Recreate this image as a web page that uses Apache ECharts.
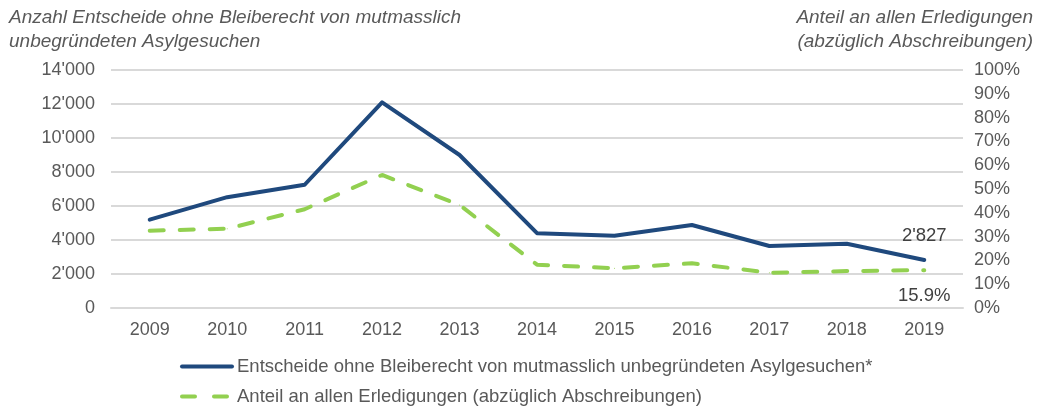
<!DOCTYPE html>
<html><head><meta charset="utf-8">
<script src="https://cdn.jsdelivr.net/npm/echarts@6/dist/echarts.min.js"></script>
<style>html,body{margin:0;padding:0;background:#fff}#c{width:1044px;height:407px}</style>
</head><body><div id="c"></div>
<script>
const years = ['2009','2010','2011','2012','2013','2014','2015','2016','2017','2018','2019'];
const decisions = [5200, 6520, 7250, 12100, 9000, 4400, 4250, 4880, 3650, 3780, 2827];
const share = [32.5, 33.3, 41.5, 55.9, 43.3, 18.2, 16.7, 18.8, 14.8, 15.5, 15.9];
const seriesNames = ['Entscheide ohne Bleiberecht von mutmasslich unbegründeten Asylgesuchen*', 'Anteil an allen Erledigungen (abzüglich Abschreibungen)'];
const leftTitle = 'Anzahl Entscheide ohne Bleiberecht von mutmasslich\nunbegründeten Asylgesuchen';
const rightTitle = 'Anteil an allen Erledigungen\n(abzüglich Abschreibungen)';

const font = 'Liberation Sans, Arial, sans-serif';
const grey = '#595959';
const blue = '#1f497d';
const green = '#92d050';
const fmtNum = v => String(v).replace(/\B(?=(\d{3})+(?!\d))/g, "'");
const chart = echarts.init(document.getElementById('c'), null, {renderer: 'canvas'});
const legendBase = {
  orient: 'horizontal', left: 180, padding: 0, itemWidth: 50, itemHeight: 14, itemGap: 0,
  itemStyle: {opacity: 0},
  textStyle: {fontFamily: font, fontSize: 18.5, color: grey}
};
chart.setOption({
  animation: false,
  textStyle: {fontFamily: font},
  graphic: [
    {type: 'text', x: 9, y: 6, style: {text: leftTitle, fontFamily: font, fontStyle: 'italic', fontSize: 19, fill: grey, lineHeight: 24, align: 'left', verticalAlign: 'top'}},
    {type: 'text', x: 1033, y: 6, style: {text: rightTitle, fontFamily: font, fontStyle: 'italic', fontSize: 19, fill: grey, lineHeight: 24, align: 'right', verticalAlign: 'top'}}
  ],
  grid: {left: 111, right: 81, top: 70, bottom: 99, containLabel: false},
  legend: [
    Object.assign({}, legendBase, {top: 357, lineStyle: {width: 4}, data: [seriesNames[0]]}),
    Object.assign({}, legendBase, {top: 387, lineStyle: {width: 4, type: [13, 19]}, data: [seriesNames[1]]})
  ],
  xAxis: {
    type: 'category', data: years, boundaryGap: true,
    axisLine: {show: true, lineStyle: {color: '#d9d9d9', width: 2}},
    axisTick: {show: false},
    axisLabel: {fontFamily: font, fontSize: 18, color: grey, margin: 13}
  },
  yAxis: [
    {type: 'value', min: 0, max: 14000, interval: 2000,
     axisLine: {show: false}, axisTick: {show: false},
     splitLine: {lineStyle: {color: '#d9d9d9', width: 2}},
     axisLabel: {fontFamily: font, fontSize: 18, color: grey, margin: 16, formatter: fmtNum}},
    {type: 'value', min: 0, max: 100, interval: 10, position: 'right',
     axisLine: {show: false}, axisTick: {show: false}, splitLine: {show: false},
     axisLabel: {fontFamily: font, fontSize: 18, color: grey, margin: 11, formatter: v => v + '%'}}
  ],
  series: [
    {name: seriesNames[0], type: 'line', yAxisIndex: 0, data: decisions,
     symbol: 'circle', symbolSize: 2, showSymbol: true,
     lineStyle: {color: blue, width: 4, cap: 'round', join: 'round'}, itemStyle: {color: blue},
     label: {show: true, position: 'top', distance: 14, fontFamily: font, fontSize: 18.5, color: '#404040',
       formatter: p => p.dataIndex === decisions.length - 1 ? fmtNum(p.value) : ''}},
    {name: seriesNames[1], type: 'line', yAxisIndex: 1, data: share,
     symbol: 'circle', symbolSize: 1, showSymbol: true,
     lineStyle: {color: green, width: 4, type: [14, 16], cap: 'round'}, itemStyle: {color: green},
     label: {show: true, position: 'bottom', distance: 16, fontFamily: font, fontSize: 18.5, color: '#404040',
       formatter: p => p.dataIndex === share.length - 1 ? p.value.toFixed(1) + '%' : ''}}
  ]
});
</script></body></html>
